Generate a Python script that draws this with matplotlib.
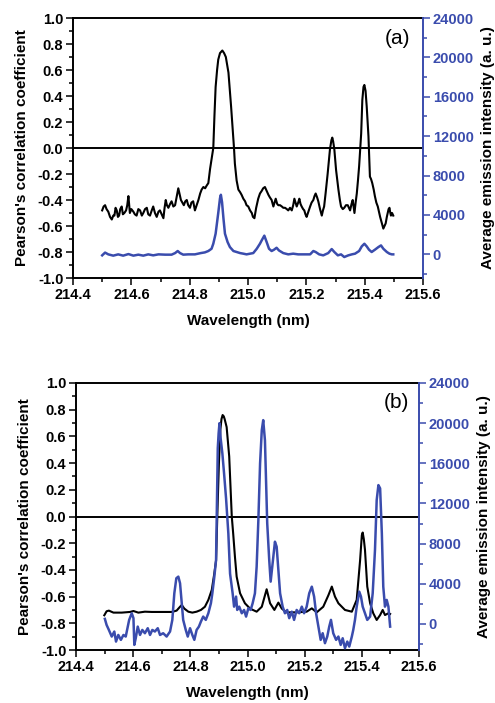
import matplotlib
matplotlib.use("Agg")
import matplotlib.pyplot as plt
from matplotlib.ticker import MultipleLocator, FormatStrFormatter

plt.rcParams['font.family'] = ['Liberation Sans', 'DejaVu Sans']

BLUE = '#3a4cad'

# ---------------- Panel (a) data: (wavelength, value) ----------------
a_corr_pts = [
    (214.500, -0.48), (214.505, -0.45), (214.510, -0.44), (214.515, -0.47), (214.521, -0.49),
    (214.527, -0.53), (214.533, -0.55), (214.538, -0.52), (214.542, -0.52), (214.546, -0.46),
    (214.550, -0.48), (214.554, -0.53), (214.558, -0.52), (214.562, -0.47), (214.567, -0.45),
    (214.571, -0.51), (214.576, -0.50), (214.582, -0.48), (214.586, -0.44), (214.590, -0.37),
    (214.595, -0.50), (214.600, -0.47), (214.607, -0.49), (214.612, -0.51), (214.618, -0.52),
    (214.624, -0.47), (214.630, -0.48), (214.636, -0.52), (214.641, -0.50), (214.647, -0.47),
    (214.653, -0.46), (214.658, -0.51), (214.664, -0.52), (214.670, -0.48), (214.675, -0.45),
    (214.681, -0.50), (214.687, -0.53), (214.693, -0.49), (214.698, -0.48), (214.704, -0.51),
    (214.710, -0.54), (214.714, -0.46), (214.718, -0.40), (214.722, -0.44), (214.727, -0.46),
    (214.733, -0.43), (214.738, -0.41), (214.744, -0.45), (214.750, -0.44), (214.756, -0.37),
    (214.761, -0.31), (214.766, -0.36), (214.770, -0.40), (214.775, -0.42), (214.780, -0.44),
    (214.785, -0.41), (214.790, -0.40), (214.795, -0.44), (214.801, -0.46), (214.806, -0.42),
    (214.812, -0.41), (214.818, -0.48), (214.824, -0.44), (214.830, -0.40), (214.836, -0.35),
    (214.841, -0.32), (214.847, -0.30), (214.853, -0.31), (214.858, -0.29), (214.864, -0.27),
    (214.870, -0.16), (214.876, -0.07), (214.881, 0.00), (214.885, 0.25), (214.889, 0.47),
    (214.894, 0.60), (214.898, 0.68), (214.904, 0.73), (214.912, 0.75), (214.918, 0.73),
    (214.924, 0.70), (214.933, 0.58), (214.942, 0.32), (214.952, 0.00), (214.955, -0.12),
    (214.961, -0.25), (214.967, -0.32), (214.973, -0.34), (214.978, -0.36), (214.984, -0.39),
    (214.990, -0.41), (214.995, -0.44), (215.001, -0.45), (215.007, -0.48), (215.013, -0.50),
    (215.017, -0.53), (215.022, -0.54), (215.028, -0.46), (215.035, -0.39), (215.041, -0.35),
    (215.047, -0.33), (215.052, -0.31), (215.058, -0.30), (215.064, -0.33), (215.070, -0.36),
    (215.075, -0.38), (215.081, -0.40), (215.087, -0.45), (215.091, -0.42), (215.095, -0.39),
    (215.100, -0.43), (215.104, -0.44), (215.110, -0.44), (215.116, -0.45), (215.121, -0.46),
    (215.127, -0.46), (215.133, -0.47), (215.138, -0.48), (215.144, -0.46), (215.150, -0.48),
    (215.155, -0.44), (215.159, -0.39), (215.163, -0.42), (215.167, -0.45), (215.172, -0.42),
    (215.176, -0.39), (215.180, -0.43), (215.184, -0.45), (215.189, -0.47), (215.193, -0.48),
    (215.197, -0.51), (215.201, -0.53), (215.207, -0.49), (215.213, -0.45), (215.218, -0.42),
    (215.224, -0.40), (215.228, -0.37), (215.232, -0.35), (215.237, -0.38), (215.241, -0.41),
    (215.247, -0.47), (215.253, -0.52), (215.257, -0.48), (215.261, -0.45), (215.266, -0.35),
    (215.273, -0.20), (215.281, -0.01), (215.286, 0.06), (215.289, 0.08), (215.292, 0.05),
    (215.296, -0.01), (215.302, -0.17), (215.310, -0.32), (215.315, -0.40), (215.319, -0.45),
    (215.325, -0.47), (215.330, -0.46), (215.336, -0.44), (215.342, -0.44), (215.346, -0.46),
    (215.350, -0.48), (215.355, -0.43), (215.359, -0.40), (215.362, -0.45), (215.365, -0.50),
    (215.369, -0.42), (215.373, -0.35), (215.377, -0.25), (215.381, -0.14), (215.385, 0.00),
    (215.388, 0.11), (215.392, 0.37), (215.396, 0.47), (215.399, 0.485), (215.403, 0.44),
    (215.407, 0.32), (215.413, 0.09), (215.418, -0.22), (215.422, -0.24), (215.426, -0.27),
    (215.431, -0.32), (215.435, -0.37), (215.440, -0.42), (215.445, -0.45), (215.449, -0.49),
    (215.453, -0.53), (215.458, -0.57), (215.464, -0.62), (215.468, -0.60), (215.472, -0.58),
    (215.476, -0.53), (215.479, -0.50), (215.482, -0.47), (215.485, -0.46), (215.488, -0.50),
    (215.490, -0.52), (215.494, -0.50), (215.498, -0.52),
]

a_int_pts = [
    (214.500, -100), (214.510, 180), (214.521, 0), (214.538, -130), (214.555, 0),
    (214.572, -130), (214.590, 30), (214.607, -130), (214.624, -30), (214.641, -130),
    (214.658, 0), (214.675, -100), (214.693, 0), (214.716, -30), (214.738, -30),
    (214.750, 130), (214.759, 340), (214.767, 130), (214.778, -30), (214.795, 0),
    (214.818, 0), (214.838, 130), (214.852, 200), (214.864, 340), (214.875, 570),
    (214.881, 1080), (214.889, 2100), (214.898, 4200), (214.904, 5700), (214.907, 6050),
    (214.911, 5300), (214.916, 3600), (214.921, 2100), (214.930, 1250), (214.938, 740),
    (214.950, 340), (214.961, 240), (214.973, 130), (214.984, 70), (214.995, 0),
    (215.007, 70), (215.018, 130), (215.030, 570), (215.041, 1080), (215.047, 1420),
    (215.056, 1900), (215.064, 1250), (215.072, 570), (215.081, 340), (215.089, 470),
    (215.098, 670), (215.106, 400), (215.121, 130), (215.138, 0), (215.155, 70),
    (215.172, 0), (215.195, 0), (215.213, 0), (215.224, 340), (215.232, 240),
    (215.244, 0), (215.258, -100), (215.275, 130), (215.287, 540), (215.296, 240),
    (215.308, -100), (215.319, 0), (215.330, -270), (215.344, -100), (215.356, 0),
    (215.367, 70), (215.381, 340), (215.390, 810), (215.399, 1080), (215.407, 810),
    (215.415, 470), (215.424, 240), (215.435, 470), (215.447, 740), (215.456, 910),
    (215.464, 570), (215.476, 240), (215.485, 70), (215.493, 0), (215.498, 0),
]

# ---------------- Panel (b) data: (wavelength, value) ----------------
b_corr_pts = [
    (214.499, -0.74), (214.507, -0.71), (214.515, -0.705), (214.531, -0.72), (214.560, -0.72),
    (214.589, -0.715), (214.601, -0.708), (214.618, -0.72), (214.641, -0.713), (214.665, -0.715),
    (214.700, -0.715), (214.735, -0.715), (214.752, -0.705), (214.764, -0.676), (214.770, -0.663),
    (214.779, -0.69), (214.793, -0.713), (214.807, -0.72), (214.822, -0.713), (214.837, -0.70),
    (214.851, -0.676), (214.863, -0.625), (214.875, -0.55), (214.884, -0.425), (214.890, -0.33),
    (214.895, 0.05), (214.900, 0.40), (214.905, 0.65), (214.909, 0.73), (214.913, 0.76),
    (214.917, 0.75), (214.920, 0.73), (214.927, 0.67), (214.936, 0.45), (214.945, 0.00),
    (214.950, -0.13), (214.956, -0.30), (214.962, -0.45), (214.974, -0.575), (214.991, -0.65),
    (215.009, -0.69), (215.032, -0.713), (215.050, -0.676), (215.067, -0.545), (215.079, -0.65),
    (215.094, -0.70), (215.108, -0.645), (215.120, -0.69), (215.137, -0.718), (215.172, -0.718),
    (215.207, -0.713), (215.225, -0.688), (215.242, -0.718), (215.265, -0.676), (215.283, -0.59),
    (215.295, -0.525), (215.306, -0.60), (215.318, -0.65), (215.341, -0.70), (215.365, -0.713),
    (215.382, -0.625), (215.394, -0.326), (215.400, -0.14), (215.403, -0.12), (215.407, -0.17),
    (215.411, -0.25), (215.419, -0.525), (215.429, -0.65), (215.440, -0.725), (215.452, -0.775),
    (215.464, -0.738), (215.473, -0.70), (215.481, -0.738), (215.493, -0.725), (215.499, -0.73),
]

b_int_pts = [
    (214.501, 500), (214.507, -100), (214.515, -600), (214.525, -1260), (214.534, -760),
    (214.540, -1760), (214.548, -1100), (214.557, -1590), (214.566, -1100), (214.574, -1260),
    (214.581, -270), (214.586, 400), (214.595, 1060), (214.601, 570), (214.604, -2090),
    (214.609, -1430), (214.616, -270), (214.624, -1100), (214.632, -600), (214.641, -930),
    (214.651, -430), (214.659, -1100), (214.667, -600), (214.676, -760), (214.686, -430),
    (214.694, -1100), (214.705, -930), (214.717, -1260), (214.729, -760), (214.737, 400),
    (214.744, 3050), (214.751, 4550), (214.758, 4710), (214.764, 4050), (214.770, 2060),
    (214.775, 400), (214.784, -600), (214.791, -1260), (214.799, -430), (214.807, -1100),
    (214.814, -1590), (214.822, -600), (214.830, -270), (214.837, 230), (214.845, 730),
    (214.854, 400), (214.863, 1060), (214.872, 2060), (214.877, 3050), (214.884, 4710),
    (214.890, 6370), (214.893, 12000), (214.896, 17500), (214.899, 19000), (214.902, 20000),
    (214.906, 18500), (214.912, 17000), (214.918, 15000), (214.925, 12500), (214.933, 9000),
    (214.939, 5000), (214.948, 3050), (214.953, 1720), (214.960, 2720), (214.964, 1390),
    (214.971, 1720), (214.980, 1060), (214.988, 1390), (214.995, 730), (215.003, 1560),
    (215.011, 1390), (215.018, 2060), (215.026, 3050), (215.032, 5700), (215.038, 10350),
    (215.044, 15990), (215.050, 19300), (215.055, 20300), (215.061, 18300), (215.065, 14330),
    (215.069, 10020), (215.076, 6370), (215.081, 4210), (215.088, 6040), (215.096, 8190),
    (215.102, 7690), (215.108, 5370), (215.114, 3050), (215.123, 1720), (215.131, 1060),
    (215.139, 1390), (215.146, 570), (215.155, 1220), (215.163, 400), (215.172, 1390),
    (215.181, 1060), (215.190, 1720), (215.198, 1060), (215.207, 1720), (215.216, 3050),
    (215.225, 3710), (215.233, 2720), (215.240, 1060), (215.248, -270), (215.256, -1590),
    (215.263, -930), (215.271, -1920), (215.279, -1260), (215.286, -270), (215.292, 400),
    (215.300, -930), (215.310, -1590), (215.318, -1260), (215.326, -2090), (215.333, -1430),
    (215.341, -2420), (215.349, -1760), (215.356, -2260), (215.365, -1260), (215.370, -600),
    (215.376, 400), (215.382, 1720), (215.391, 3210), (215.397, 2720), (215.403, 1720),
    (215.411, 1060), (215.419, 400), (215.429, 730), (215.438, 3050), (215.446, 7360),
    (215.452, 12340), (215.458, 13830), (215.464, 13500), (215.470, 9020), (215.475, 3710),
    (215.481, 1720), (215.487, 2390), (215.493, 1720), (215.499, -270),
]

a_corr_x = [p[0] for p in a_corr_pts]
a_corr_y = [p[1] for p in a_corr_pts]
a_int_x = [p[0] for p in a_int_pts]
a_int_y = [p[1] for p in a_int_pts]
b_corr_x = [p[0] for p in b_corr_pts]
b_corr_y = [p[1] for p in b_corr_pts]
b_int_x = [p[0] for p in b_int_pts]
b_int_y = [p[1] for p in b_int_pts]

x_ticks = [214.4, 214.6, 214.8, 215.0, 215.2, 215.4, 215.6]
left_ticks = [-1.0, -0.8, -0.6, -0.4, -0.2, 0.0, 0.2, 0.4, 0.6, 0.8, 1.0]
right_ticks = [0, 4000, 8000, 12000, 16000, 20000, 24000]

W, H = 495, 703
fig = plt.figure(figsize=(W / 100, H / 100), dpi=100)

TICK_FS = 10.5
LABEL_FS = 11


def make_panel(rect, cx, cy, ix, iy, rlim, tag, tagpos):
    ax = fig.add_axes(rect)
    ax.plot(cx, cy, color='black', lw=1.5)
    ax.axhline(0.0, color='black', lw=1.4)
    ax.set_xlim(214.4, 215.6)
    ax.set_ylim(-1.0, 1.0)
    ax.set_xticks(x_ticks)
    ax.set_yticks(left_ticks)
    ax.xaxis.set_minor_locator(MultipleLocator(0.1))
    ax.yaxis.set_minor_locator(MultipleLocator(0.1))
    ax.xaxis.set_major_formatter(FormatStrFormatter('%.1f'))
    ax.yaxis.set_major_formatter(FormatStrFormatter('%.1f'))
    ax.tick_params(which='both', direction='out', width=1.1)
    ax.tick_params(which='major', length=5, labelsize=TICK_FS, pad=2)
    ax.tick_params(which='minor', length=3)
    for lab in ax.get_xticklabels() + ax.get_yticklabels():
        lab.set_fontweight('bold')
    ax.set_xlabel('Wavelength (nm)', fontsize=LABEL_FS, fontweight='bold', labelpad=9)
    ax.set_ylabel("Pearson's correlation coefficient", fontsize=LABEL_FS,
                  fontweight='bold', labelpad=6)
    for s in ['left', 'bottom', 'top']:
        ax.spines[s].set_linewidth(1.4)
    ax.spines['right'].set_visible(False)

    ax2 = ax.twinx()
    ax2.plot(ix, iy, color=BLUE, lw=1.8)
    ax2.set_ylim(*rlim)
    ax2.set_yticks(right_ticks)
    ax2.yaxis.set_minor_locator(MultipleLocator(2000))
    ax2.tick_params(which='both', direction='out', colors=BLUE, width=1.1)
    ax2.tick_params(which='major', length=5, labelsize=TICK_FS, pad=2)
    ax2.tick_params(which='minor', length=3)
    for lab in ax2.get_yticklabels():
        lab.set_fontweight('bold')
    ax2.spines['right'].set_color(BLUE)
    ax2.spines['right'].set_linewidth(1.4)
    for s in ['left', 'bottom', 'top']:
        ax2.spines[s].set_visible(False)
    ax2.set_ylabel('Average emission intensity (a. u.)', fontsize=LABEL_FS,
                   fontweight='bold', color='black', labelpad=5)
    ax.text(tagpos[0], tagpos[1], tag, transform=ax.transAxes, fontsize=15,
            ha='center', va='center')
    return ax, ax2


make_panel([73 / W, 1 - 278 / H, 350 / W, 260 / H], a_corr_x, a_corr_y,
           a_int_x, a_int_y, (-2400, 24000), '(a)',
           ((397 - 73) / 350, (278 - 38) / 260))
make_panel([76 / W, 1 - 650 / H, 343 / W, 267 / H], b_corr_x, b_corr_y,
           b_int_x, b_int_y, (-2600, 24000), '(b)',
           ((396 - 76) / 343, (650 - 402) / 267))

fig.savefig('out.png', dpi=100)
